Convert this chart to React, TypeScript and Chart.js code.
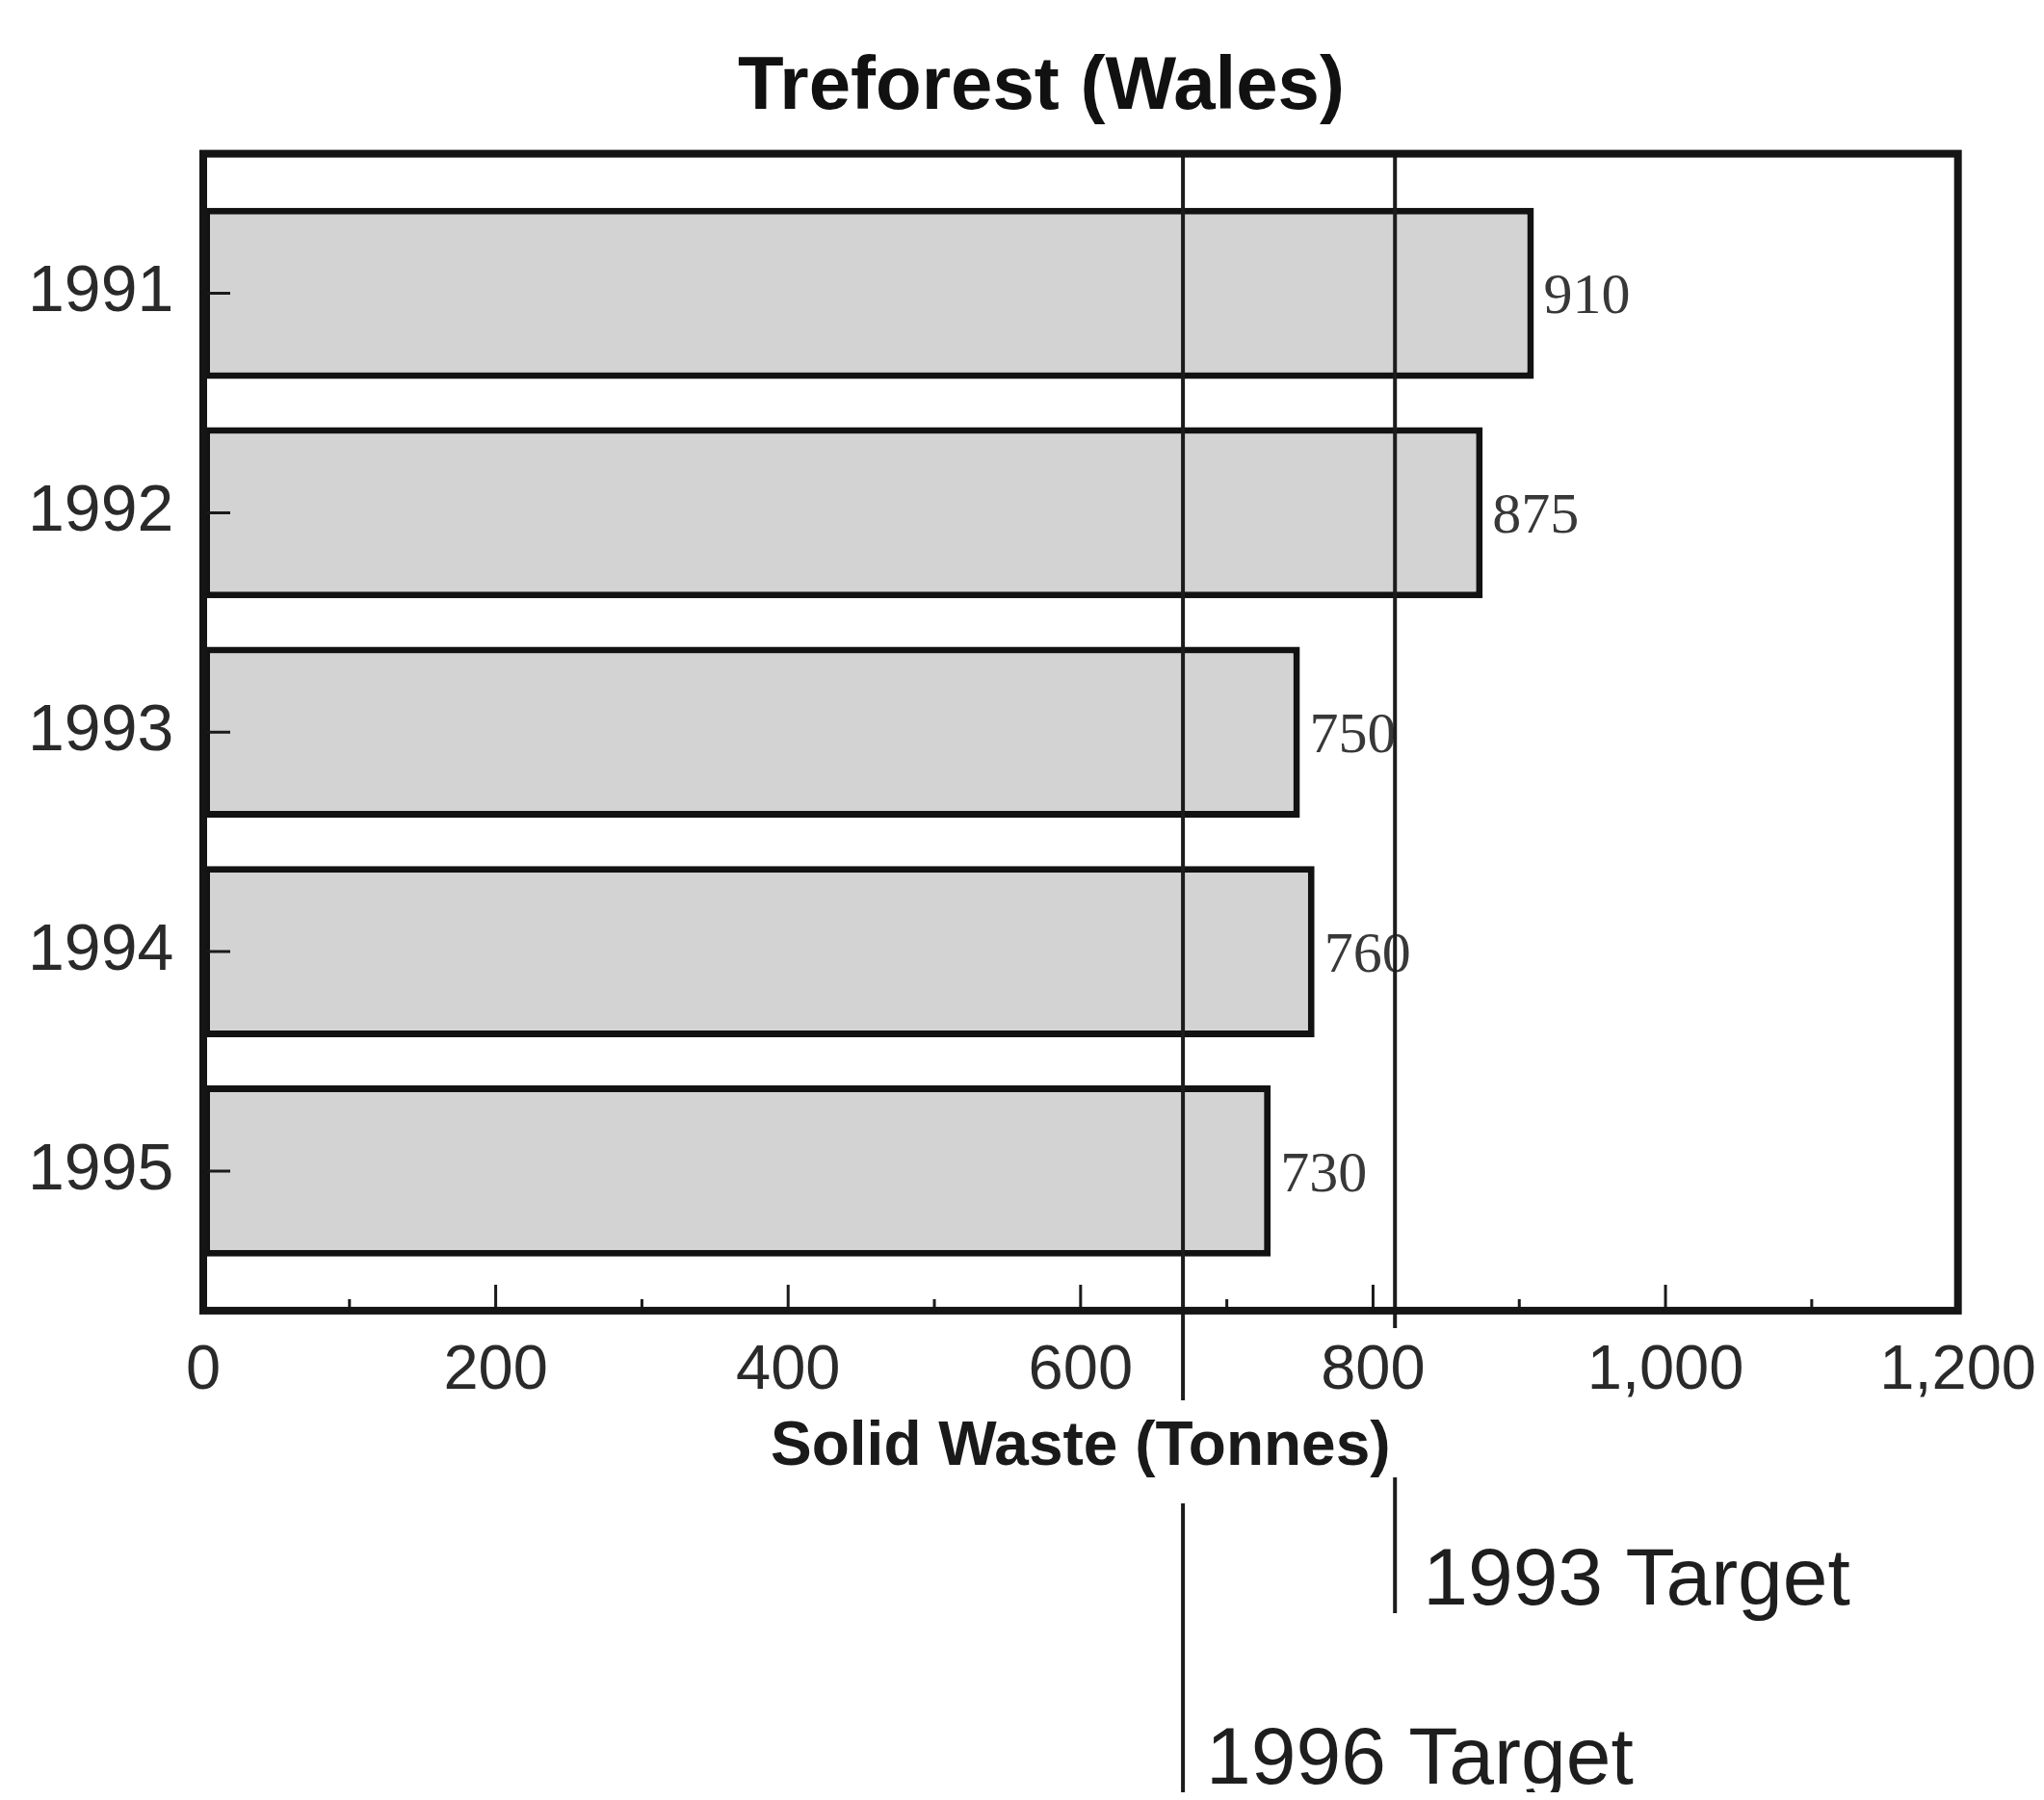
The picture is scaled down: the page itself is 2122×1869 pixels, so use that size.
import React, { useEffect, useRef } from "react";
import { Chart, registerables } from "chart.js";

Chart.register(...registerables);

// Annual solid waste, Treforest site
const years = ["1991", "1992", "1993", "1994", "1995"];
const waste = [910, 875, 750, 760, 730];

// Reduction targets (tonnes) and their captions
const targetValues = [670, 815];
const targetLabels = ["1996 Target", "1993 Target"];

// Axis tick marks
const xMajorTicks = [0, 200, 400, 600, 800, 1000, 1200];
const xMinorTicks = [100, 300, 500, 700, 900, 1100];

const SANS = "'Liberation Sans', Arial, Helvetica, sans-serif";
const SERIF = "'Liberation Serif', 'Times New Roman', serif";

// Where each target line runs below the plot and where its caption sits,
// measured in pixels from the bottom of the plot area.
const calloutLayout = [
  { stubEnd: 93, tailStart: 200, tailEnd: 501, labelDx: 24, labelBaseline: 491 },
  { stubEnd: 18, tailStart: 173, tailEnd: 314, labelDx: 29, labelBaseline: 305 },
];

const overlayPlugin = {
  id: "wasteOverlay",
  afterDatasetsDraw(chart: any) {
    const { ctx, chartArea: a, scales } = chart;
    const x = scales.x;
    const y = scales.y;
    ctx.save();

    // value captions at the end of each bar
    const meta = chart.getDatasetMeta(0);
    ctx.font = `60px ${SERIF}`;
    ctx.fillStyle = "#383838";
    ctx.textAlign = "left";
    ctx.textBaseline = "middle";
    meta.data.forEach((bar: any, i: number) => {
      ctx.fillText(String(waste[i]), bar.x + 10, bar.y + 5);
    });

    // target lines with their captions
    ctx.strokeStyle = "#1c1c1c";
    ctx.lineWidth = 4;
    targetValues.forEach((v, i) => {
      const px = x.getPixelForValue(v);
      const c = calloutLayout[i];
      ctx.beginPath();
      ctx.moveTo(px, a.top);
      ctx.lineTo(px, a.bottom + c.stubEnd);
      ctx.moveTo(px, a.bottom + c.tailStart);
      ctx.lineTo(px, a.bottom + c.tailEnd);
      ctx.stroke();
      ctx.font = `84px ${SANS}`;
      ctx.fillStyle = "#1e1e1e";
      ctx.textBaseline = "alphabetic";
      ctx.fillText(targetLabels[i], px + c.labelDx, a.bottom + c.labelBaseline);
    });

    // inward tick marks
    ctx.strokeStyle = "#1a1a1a";
    ctx.lineWidth = 3;
    ctx.beginPath();
    xMajorTicks.forEach((v) => {
      const px = x.getPixelForValue(v);
      ctx.moveTo(px, a.bottom);
      ctx.lineTo(px, a.bottom - 27);
    });
    xMinorTicks.forEach((v) => {
      const px = x.getPixelForValue(v);
      ctx.moveTo(px, a.bottom);
      ctx.lineTo(px, a.bottom - 12);
    });
    years.forEach((_, i) => {
      const py = y.getPixelForValue(i + 1);
      ctx.moveTo(a.left, py);
      ctx.lineTo(a.left + 28, py);
    });
    ctx.stroke();

    // plot frame
    ctx.lineWidth = 8;
    ctx.strokeStyle = "#151515";
    ctx.strokeRect(a.left, a.top, a.right - a.left, a.bottom - a.top);
    ctx.restore();
  },
};

export default function App() {
  const canvasRef = useRef<HTMLCanvasElement | null>(null);

  useEffect(() => {
    if (!canvasRef.current) return;
    Chart.defaults.font.family = SANS;
    const chart = new Chart(canvasRef.current, {
      type: "bar",
      data: {
        datasets: [
          {
            label: "Solid waste",
            data: waste.map((v, i) => ({ x: v, y: i + 1 })),
            backgroundColor: "#d3d3d3",
            borderColor: "#121212",
            borderWidth: 7,
            borderSkipped: false,
            barPercentage: 0.78,
            categoryPercentage: 1,
          },
        ],
      },
      options: {
        indexAxis: "y",
        animation: false,
        responsive: true,
        maintainAspectRatio: false,
        layout: { padding: { left: 121, right: 81, top: 0, bottom: 350 } },
        plugins: {
          legend: { display: false },
          tooltip: { enabled: false },
          title: {
            display: true,
            text: "Treforest (Wales)",
            color: "#111111",
            font: { family: SANS, size: 78, weight: "bold" },
            padding: { top: 37, bottom: 21 },
          },
        },
        scales: {
          x: {
            type: "linear",
            min: 0,
            max: 1200,
            grid: { display: false, drawTicks: false },
            border: { display: false },
            ticks: {
              stepSize: 200,
              padding: 0,
              color: "#2a2a2a",
              font: { family: SANS, size: 65, lineHeight: 1.94 },
              callback: (v: any) => Number(v).toLocaleString("en-US"),
            },
            title: {
              display: true,
              text: "Solid Waste (Tonnes)",
              color: "#1a1a1a",
              font: { family: SANS, size: 64, weight: "bold", lineHeight: 0.5 },
              padding: { top: 0, bottom: 0 },
            },
          },
          y: {
            type: "linear",
            offset: false,
            bounds: "data",
            reverse: true,
            min: 0.364,
            max: 5.636,
            grid: { display: false, drawTicks: false, offset: false },
            border: { display: false },
            ticks: {
              // year labels sit left of the frame; mirrored placement keeps them unclipped
              mirror: true,
              padding: -182,
              color: "#2a2a2a",
              font: { family: SANS, size: 68 },
              callback: (v: any) => years[Number(v) - 1] ?? "",
            },
            afterBuildTicks: (s: any) => {
              s.ticks = years.map((_, i) => ({ value: i + 1 }));
            },
            afterFit: (s: any) => {
              s.width = 82;
            },
          },
        },
      },
      plugins: [overlayPlugin],
    } as any);
    return () => chart.destroy();
  }, []);

  return (
    <div
      style={{
        position: "relative",
        width: "2106px",
        height: "1861px",
        marginBottom: "-8px",
      }}
    >
      <canvas ref={canvasRef} />
    </div>
  );
}
